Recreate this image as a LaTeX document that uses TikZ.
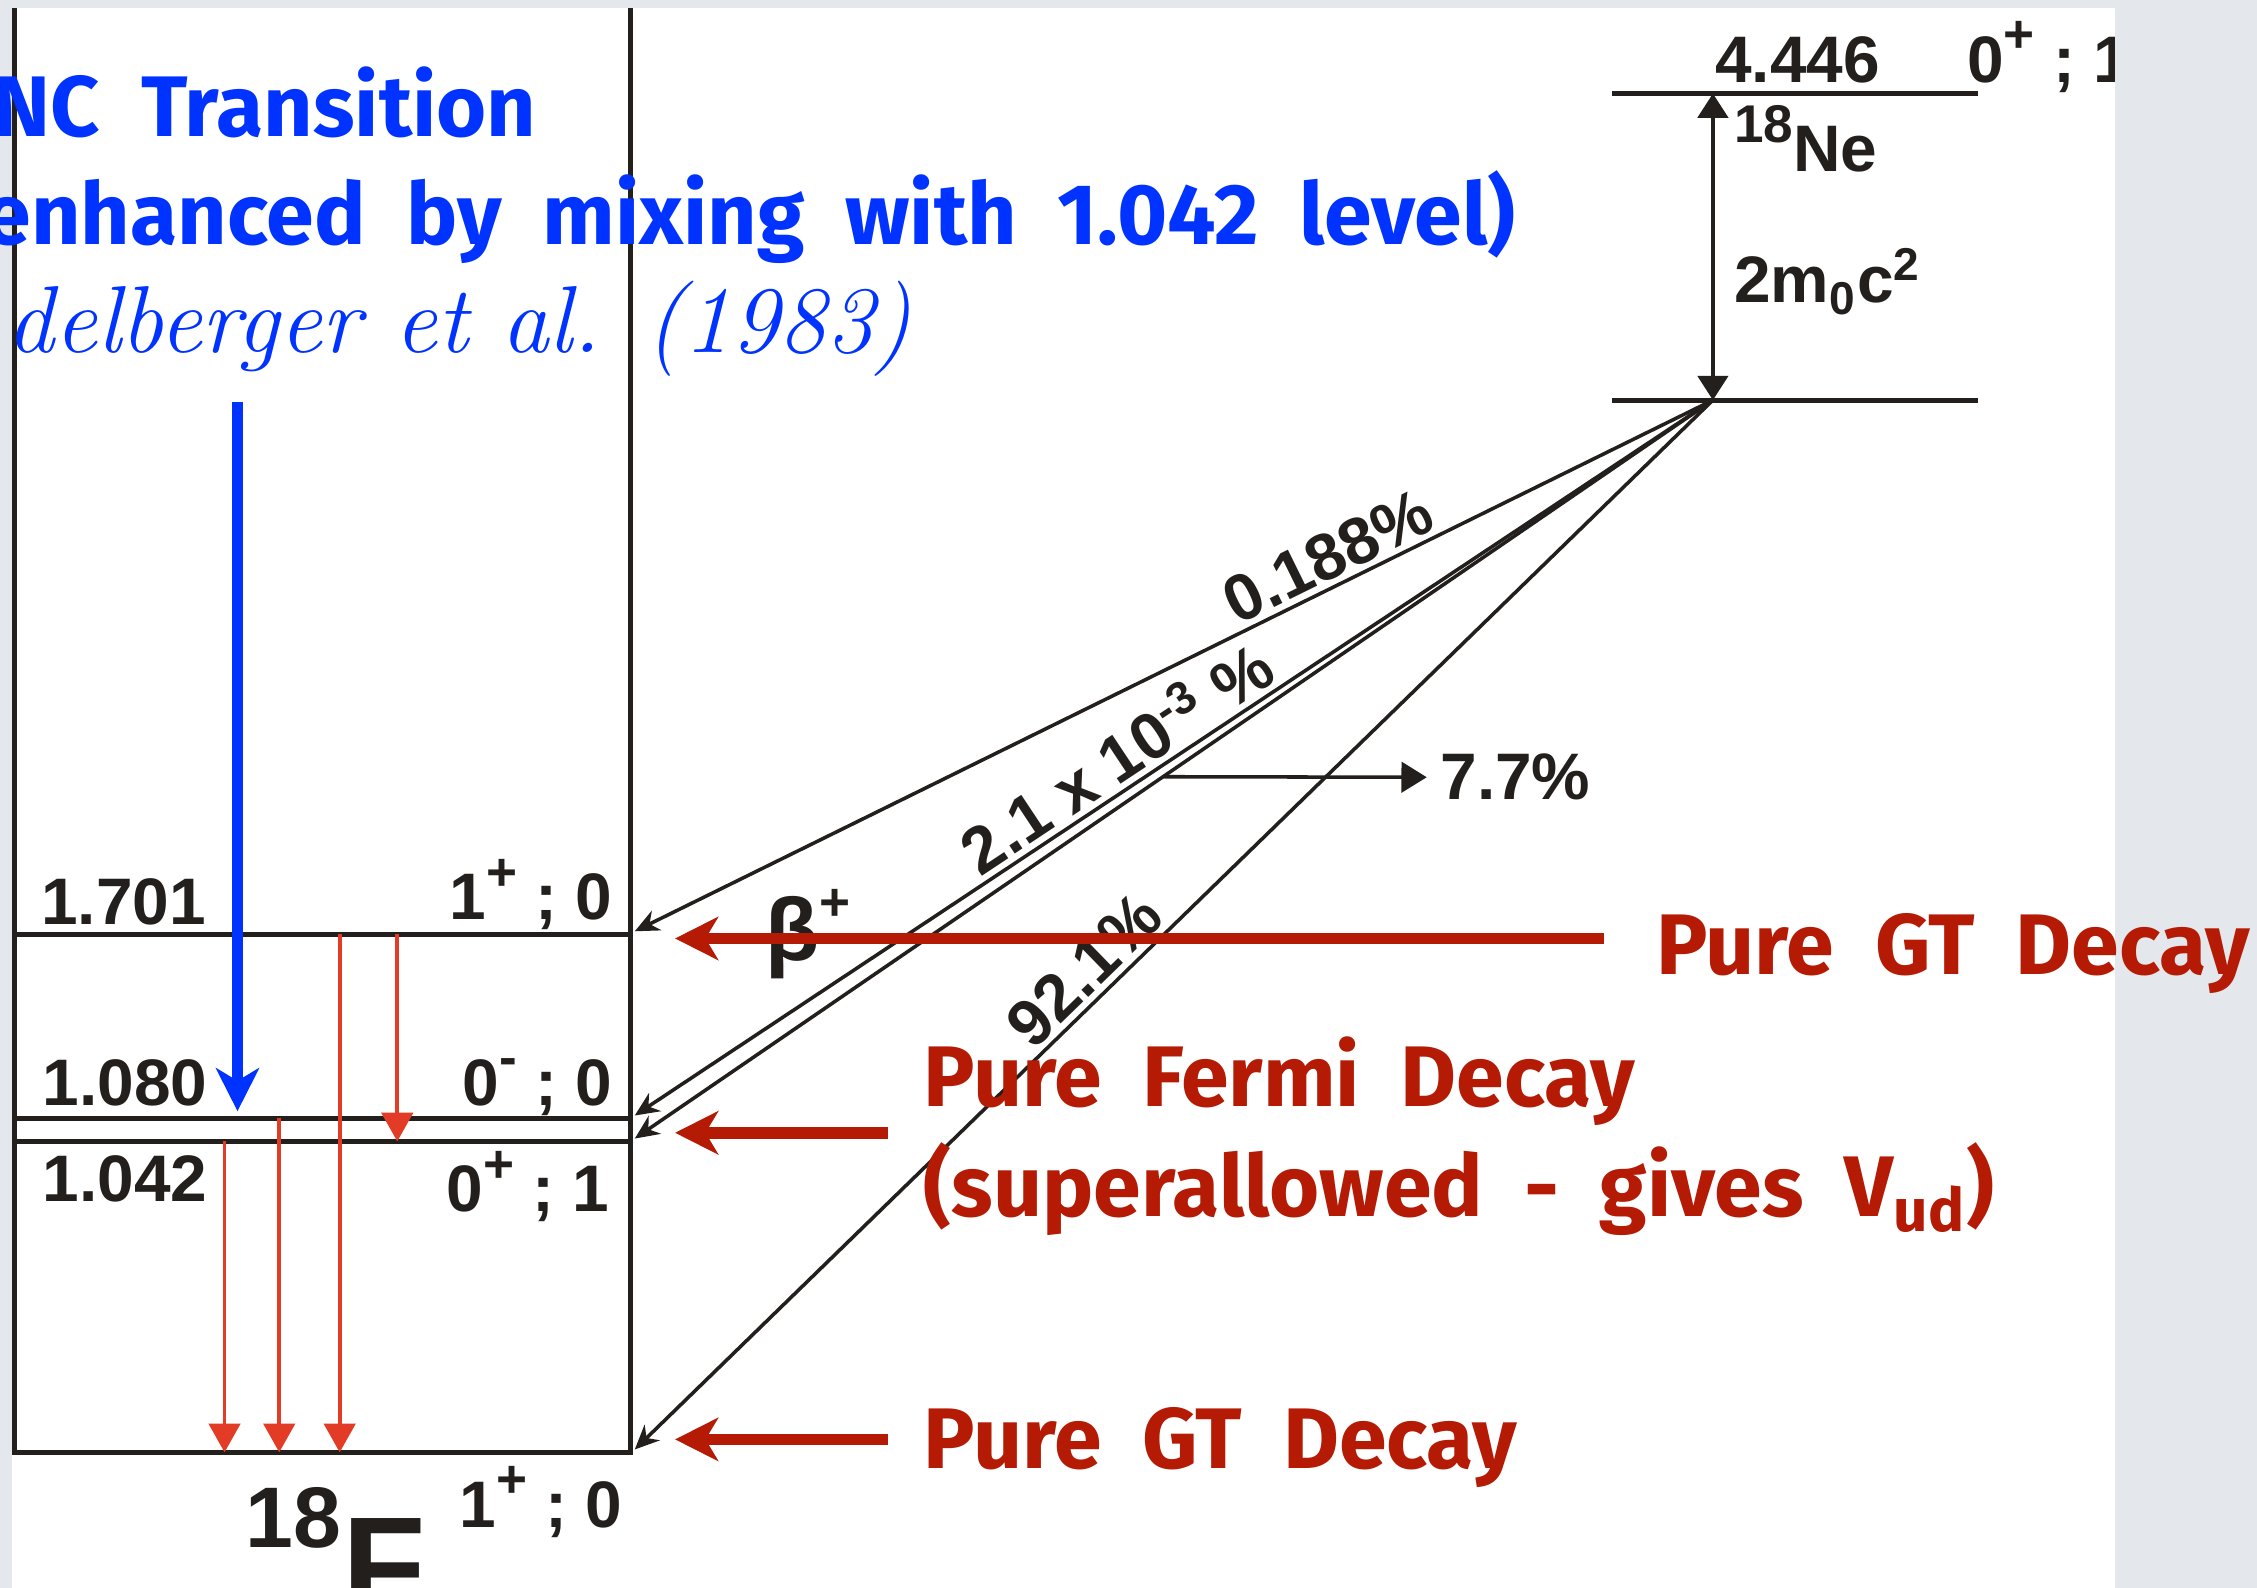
\documentclass[tikz,border=0pt]{standalone}
\usepackage{fontspec}
\newfontfamily\diagfont{Liberation Sans}
\newfontfamily\notefont{Fira Sans}[WordSpace=2]
\usetikzlibrary{arrows.meta, positioning, calc}

\definecolor{slidegrey}{RGB}{228,231,235}
\definecolor{ink}{RGB}{35,31,29}
\definecolor{notered}{RGB}{180,26,4}
\definecolor{gammared}{RGB}{226,60,38}
\definecolor{noteblue}{RGB}{0,51,255}

\newcommand{\spin}[1]{\raisebox{0.45em}{\fontsize{10.5}{10.5}\selectfont #1}}

\tikzset{
  level/.style={draw=ink, line width=0.95pt},
  beta/.style={draw=ink, line width=0.7pt, -{Stealth[length=4.8pt,width=4.3pt]}},
  gap/.style={draw=ink, line width=0.7pt, {Triangle[length=4.8pt,width=6pt]}-{Triangle[length=4.8pt,width=6pt]}},
  gamma/.style={draw=gammared, line width=0.75pt, -{Triangle[length=5.7pt,width=6.2pt]}},
  pointer/.style={draw=notered, line width=2.3pt, -{Stealth[length=8.5pt,width=8.5pt,inset=2.5pt]}},
  pncarrow/.style={draw=noteblue, line width=2.2pt, -{Stealth[length=8.5pt,width=8.5pt,inset=2.5pt]}},
  lbl/.style={font=\diagfont\bfseries\fontsize{13}{15}\selectfont, text=ink, inner sep=0pt},
  rate/.style={lbl, sloped, above, inner sep=1pt},
  note/.style={font=\notefont\bfseries\fontsize{17}{20}\selectfont, text=notered, inner sep=0pt, anchor=base west},
  pnc/.style={note, text=noteblue},
  hand/.style={font=\rmfamily\itshape\fontsize{18.8}{20}\selectfont, text=noteblue, inner sep=0pt, anchor=base west},
}

\begin{document}
\begin{tikzpicture}[x=0.1mm, y=-0.1mm]
  \useasboundingbox (0,0) rectangle (1568,1103);
  % slide and figure panel
  \fill[slidegrey] (0,0) rectangle (1568,1103);
  \fill[white] (8,5.5) rectangle (1469,1103);

  \begin{scope}
    \clip (8,5.5) rectangle (1469,1103);
    % 18F levels
    \coordinate (boxL) at (10,5.5);
    \coordinate (boxR) at (438,5.5);
    \coordinate (L0) at (10,1009);
    \coordinate (L1042) at (10,793);
    \coordinate (L1080) at (10,777);
    \coordinate (L1701) at (10,649);
    \draw[level] (boxL) -- (L0) -- (L0 -| boxR) -- (boxR);
    \foreach \lv in {L1042,L1080,L1701}
      \draw[level] (\lv) -- (\lv -| boxR);

    \node[lbl, anchor=base west] (e1701) at (28,642) {1.701};
    \node[lbl, anchor=base west] (e1080) at (29,768) {1.080};
    \node[lbl, anchor=base west] (e1042) at (29,835) {1.042};
    \node[lbl, anchor=base east] (j1701) at (426,639) {1\spin{+} ; 0};
    \node[lbl, anchor=base east] (j1080) at (426,768) {0\spin{-} ; 0};
    \node[lbl, anchor=base east] (j1042) at (424,842) {0\spin{+} ; 1};
    \node[lbl, anchor=base east] (j0) at (433,1061) {1\spin{+} ; 0};
    \node[lbl, font=\diagfont\bfseries\fontsize{17}{20}\selectfont, anchor=base west] (iso18) at (170,1075) {18};
    \node[lbl, font=\diagfont\bfseries\fontsize{27}{30}\selectfont, anchor=north west] (isoF) at (237,1054) {F};

    % gamma rays
    \foreach \x/\from/\to in {156/L1042/L0, 194/L1080/L0, 236/L1701/L0, 276/L1701/L1042}
      \draw[gamma] (\x,0 |- \from) -- (\x,0 |- \to);

    % 18Ne
    \coordinate (apex) at (1190,278);
    \coordinate (netop) at (1190,65);
    \draw[level] (1120,65) -- (1374,65);
    \draw[level] (1120,278) -- (1374,278);
    \draw[gap] (apex) -- (netop);
    \node[lbl, anchor=base west] (eNe) at (1191,57) {4.446};
    \node[lbl, anchor=base west] (jNe) at (1366,57) {0\spin{+} ; 1};
    \node[lbl, anchor=base west] (ne) at (1204,119.5) {\spin{18}Ne};
    \node[lbl, anchor=base west] (pair) at (1204,210.5) {2m\textsubscript{0}c\textsuperscript{2}};

    % beta branches
    \coordinate (t1701) at (441,647);
    \coordinate (t1080) at (441,775);
    \coordinate (t1042) at (441,791);
    \coordinate (t0) at (441,1007);
    \draw[beta] (apex) -- node[rate, pos=0.345] {0.188\%} (t1701);
    \draw[beta] (apex) -- node[rate, pos=0.537] {2.1 x 10\textsuperscript{-3} \%} (t1080);
    \draw[beta] (apex) -- (t1042);
    \draw[beta] (apex) -- node[rate, pos=0.5636] {92.1\%} (t0);
    \coordinate (branch) at ($(apex)!0.51!(t1042)$);
    \node[lbl, anchor=west] (p77) at (1000,540) {7.7\%};
    \draw[beta, -{Triangle[length=5pt,width=6pt]}] (branch) -- ([xshift=-2.5pt]p77.west);
    \node[lbl, font=\diagfont\bfseries\fontsize{17.5}{20}\selectfont, anchor=base west] (betaplus) at (531,667) {β\spin{+}};
  \end{scope}

  % notes
  \node[pnc] (pnc1) at (-5,95) {NC Transition};
  \node[pnc] (pnc2) at (-12,170) {enhanced by mixing with 1.042 level)};
  \node[hand] (pnc3) at (4,245) {delberger et al. (1983)};
  \coordinate (pncstart) at (165,279);
  \coordinate (pnctip) at (165,772);
  \draw[pncarrow] (pncstart) -- (pnctip);

  \node[note] (gtA) at (1150,677) {Pure GT Decay};
  \node[note] (fermi) at (641,769) {Pure Fermi Decay};
  \node[note] (super) at (641,845) {(superallowed - gives V\textsubscript{ud})};
  \node[note] (gtB) at (641,1020) {Pure GT Decay};
  \coordinate (gtAtail) at (1114,652);
  \coordinate (gtAtip) at (469,652);
  \coordinate (fermitail) at (617,787);
  \coordinate (fermitip) at (469,787);
  \coordinate (gtBtail) at (617,1000);
  \coordinate (gtBtip) at (469,1000);
  \draw[pointer] (gtAtail) -- (gtAtip);
  \draw[pointer] (fermitail) -- (fermitip);
  \draw[pointer] (gtBtail) -- (gtBtip);
\end{tikzpicture}
\end{document}
